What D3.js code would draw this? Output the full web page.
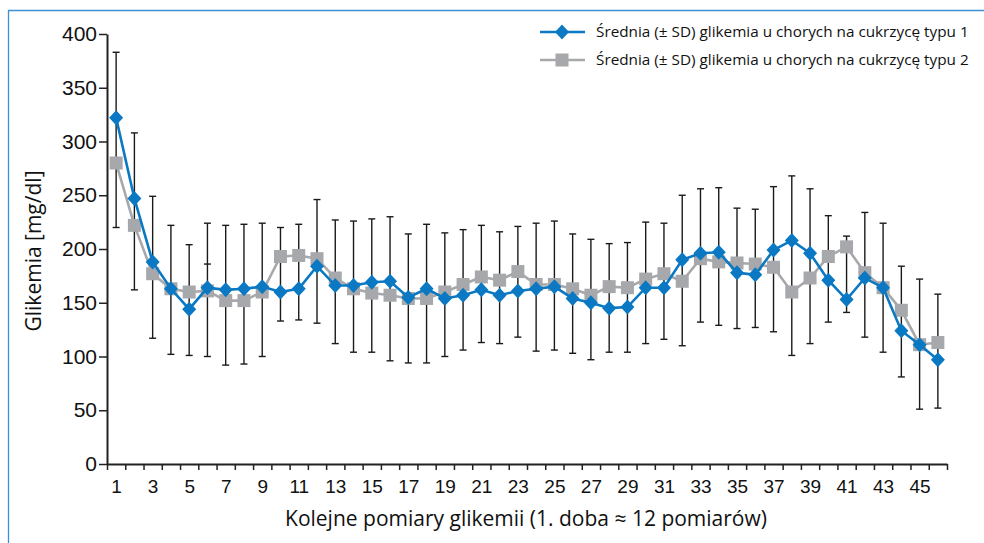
<!DOCTYPE html>
<html>
<head>
<meta charset="utf-8">
<script src="https://cdn.jsdelivr.net/npm/d3@7"></script>
<style>
  body { margin: 0; background: #fff; }
  svg { font-family: "Open Sans", "Noto Sans", sans-serif; }
</style>
</head>
<body>
<div id="chart"></div>
<script>
// pomiary 1..46
const pomiary = d3.range(1, 47);
const typ1 = [322, 247, 188, 163, 144, 164, 162, 163, 165, 160, 163, 184, 166, 166, 169, 170,
  155, 163, 154, 157, 162, 157, 161, 163, 165, 154, 150, 145, 146, 164, 164, 190, 196, 197,
  178, 176, 199, 208, 196, 171, 153, 173, 164, 124, 111, 97];
const typ2 = [280, 222, 177, 163, 160, 161, 152, 152, 160, 193, 194, 191, 173, 163, 159, 157,
  154, 154, 160, 167, 174, 171, 179, 167, 167, 163, 157, 165, 164, 172, 177, 170, 191, 188,
  187, 186, 183, 160, 173, 193, 202, 178, 164, 143, 111, 113];
// widoczny zakres slupkow bledu (± SD)
const errHigh = [383, 308, 249, 222, 204, 224, 222, 223, 224, 220, 223, 246, 227, 226, 228, 230,
  214, 223, 215, 218, 222, 216, 221, 224, 226, 214, 209, 205, 206, 225, 224, 250, 256, 257,
  238, 237, 258, 268, 256, 231, 212, 234, 224, 184, 172, 158];
const errLow = [220, 162, 117, 102, 101, 100, 92, 93, 100, 133, 134, 131, 112, 104, 104, 96,
  94, 94, 100, 106, 113, 112, 118, 105, 106, 103, 97, 104, 104, 112, 116, 110, 132, 129,
  126, 127, 123, 101, 112, 132, 141, 118, 104, 81, 51, 52];
const extraCaps = [{ x: 6, v: 186 }];
const yTicks = [0, 50, 100, 150, 200, 250, 300, 350, 400];
const xLabels = [1, 3, 5, 7, 9, 11, 13, 15, 17, 19, 21, 23, 25, 27, 29, 31, 33, 35, 37, 39, 41, 43, 45];
const legendLabels = [
  "Średnia (± SD) glikemia u chorych na cukrzycę typu 1",
  "Średnia (± SD) glikemia u chorych na cukrzycę typu 2"
];

const width = 984, height = 543;
const blue = "#0a78c2", grey = "#a7a8ab";

const svg = d3.select("#chart").append("svg")
  .attr("width", width)
  .attr("height", height);

// ramka
svg.append("path")
  .attr("d", "M8.5,543V10.5H984")
  .attr("fill", "none")
  .attr("stroke", "#3d8fd3")
  .attr("stroke-width", 1.3);

const x = d3.scaleLinear().domain([0.5, 46.5]).range([107, 947]);
const y = d3.scaleLinear().domain([0, 400]).range([464, 34]);

// osie
const yAxis = svg.append("g")
  .attr("transform", "translate(107,0)")
  .call(d3.axisLeft(y).tickValues(yTicks).tickSize(8).tickSizeOuter(0).tickPadding(2));
yAxis.selectAll("text").attr("font-size", 21).attr("fill", "#111").attr("font-family", null);

const xAxis = svg.append("g")
  .attr("transform", "translate(0,464)")
  .call(d3.axisBottom(x).tickValues(d3.range(0.5, 47, 1)).tickSize(6).tickSizeOuter(0).tickFormat(""));
svg.append("g")
  .attr("transform", "translate(0,464)")
  .call(d3.axisBottom(x).tickValues(xLabels).tickSize(0).tickPadding(16))
  .call(g => g.select(".domain").remove())
  .selectAll("text").attr("font-size", 19).attr("fill", "#111").attr("font-family", null);

svg.selectAll(".domain").attr("stroke", "#222").attr("stroke-width", 2);
svg.selectAll(".tick line").attr("stroke", "#222").attr("stroke-width", 1.5);

// tytuly osi
svg.append("text")
  .attr("x", 526)
  .attr("y", 526)
  .attr("text-anchor", "middle")
  .attr("font-size", 21)
  .attr("fill", "#111")
  .text("Kolejne pomiary glikemii (1. doba ≈ 12 pomiarów)");

svg.append("text")
  .attr("transform", "translate(41,251) rotate(-90)")
  .attr("text-anchor", "middle")
  .attr("font-size", 21)
  .attr("fill", "#111")
  .text("Glikemia [mg/dl]");

// slupki bledu
const errG = svg.append("g").attr("stroke", "#1a1a1a").attr("stroke-width", 1.4);
pomiary.forEach((p, i) => {
  errG.append("line")
    .attr("x1", x(p)).attr("x2", x(p))
    .attr("y1", y(errHigh[i])).attr("y2", y(errLow[i]));
  [errHigh[i], errLow[i]].forEach(v => {
    errG.append("line")
      .attr("x1", x(p) - 3.5).attr("x2", x(p) + 3.5)
      .attr("y1", y(v)).attr("y2", y(v));
  });
});
extraCaps.forEach(c => {
  errG.append("line")
    .attr("x1", x(c.x) - 3.5).attr("x2", x(c.x) + 3.5)
    .attr("y1", y(c.v)).attr("y2", y(c.v));
});

const line = d3.line().x((d, i) => x(pomiary[i])).y(d => y(d));

// typ 2 (szary)
svg.append("path")
  .datum(typ2)
  .attr("d", line)
  .attr("fill", "none")
  .attr("stroke", grey)
  .attr("stroke-width", 2.6);
svg.append("g").selectAll("rect")
  .data(typ2)
  .join("rect")
  .attr("x", (d, i) => x(pomiary[i]) - 6.5)
  .attr("y", d => y(d) - 6.5)
  .attr("width", 13)
  .attr("height", 13)
  .attr("fill", grey);

// typ 1 (niebieski)
const diamond = "M0,-7.5L7,0L0,7.5L-7,0Z";
svg.append("path")
  .datum(typ1)
  .attr("d", line)
  .attr("fill", "none")
  .attr("stroke", blue)
  .attr("stroke-width", 2.6);
svg.append("g").selectAll("path")
  .data(typ1)
  .join("path")
  .attr("d", diamond)
  .attr("transform", (d, i) => "translate(" + x(pomiary[i]) + "," + y(d) + ")")
  .attr("fill", blue);

// legenda
const legend = svg.append("g");
[blue, grey].forEach((col, i) => {
  const ly = 32 + i * 28;
  legend.append("line")
    .attr("x1", 540).attr("x2", 585)
    .attr("y1", ly).attr("y2", ly)
    .attr("stroke", col).attr("stroke-width", 2.6);
  if (i === 0) {
    legend.append("path").attr("d", diamond)
      .attr("transform", "translate(562," + ly + ")")
      .attr("fill", col);
  } else {
    legend.append("rect")
      .attr("x", 562 - 6.5).attr("y", ly - 6.5)
      .attr("width", 13).attr("height", 13)
      .attr("fill", col);
  }
  legend.append("text")
    .attr("x", 596)
    .attr("y", ly + 5)
    .attr("font-size", 15.3)
    .attr("fill", "#111")
    .text(legendLabels[i]);
});
</script>
</body>
</html>
